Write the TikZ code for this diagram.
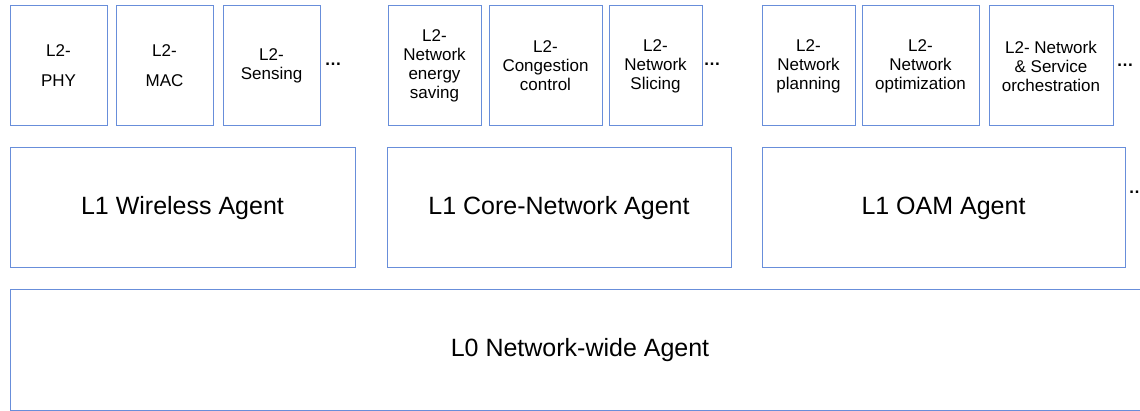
\documentclass[tikz,border=0pt]{standalone}
\usepackage{fontspec}
\setmainfont{Liberation Sans}
\definecolor{bcol}{RGB}{104,142,218}
\newcommand\topsz{\fontsize{17}{19}\selectfont}
\newcommand\bigsz{\fontsize{25}{29}\selectfont}
\tikzset{
  box/.style={draw=bcol, line width=1pt, rectangle, inner sep=0pt, align=center, text=black},
  lvtwo/.style={box, font=\topsz, minimum height=120pt},
  lvone/.style={box, font=\bigsz, minimum height=120pt},
  dotsnode/.style={font=\topsz\bfseries, inner sep=0pt, anchor=base}
}
\begin{document}
\begin{tikzpicture}[x=1pt,y=-1pt]
\clip (0,0) rectangle (1140,411);
\fill[white] (0,0) rectangle (1140,411);
% L2 row
\node[lvtwo, minimum width=97pt] (b1) at (58.5,66) {L2-\\[11pt]PHY};
\node[lvtwo, minimum width=97pt] (b2) at (164.5,66) {L2-\\[11pt]MAC};
\node[lvtwo, minimum width=97pt] (b3) at (271.5,66) {L2-\\Sensing};
\node[dotsnode] (d1) at (333,66) {…};
\node[lvtwo, minimum width=93pt] (b4) at (434.5,66) {L2-\\Network\\energy\\saving};
\node[lvtwo, minimum width=113pt] (b5) at (545.5,66) {L2-\\Congestion\\control};
\node[lvtwo, minimum width=93pt] (b6) at (655.5,66) {L2-\\Network\\Slicing};
\node[dotsnode] (d2) at (712,66) {…};
\node[lvtwo, minimum width=93pt] (b7) at (808.5,66) {L2-\\Network\\planning};
\node[lvtwo, minimum width=117pt] (b8) at (920.5,66) {L2-\\Network\\optimization};
\node[lvtwo, minimum width=124pt] (b9) at (1051,66) {L2- Network\\\& Service\\orchestration};
\node[dotsnode] (d3) at (1125,67) {…};
% L1 row
\node[lvone, minimum width=345pt] (m1) at (182.5,208) {L1 Wireless Agent};
\node[lvone, minimum width=344pt] (m2) at (559,208) {L1 Core-Network Agent};
\node[lvone, minimum width=363pt] (m3) at (943.5,208) {L1 OAM Agent};
\node[dotsnode] (d4) at (1137,194) {…};
% L0 row
\node[lvone, minimum width=1140pt] (l0) at (580,350) {L0 Network-wide Agent};
\end{tikzpicture}
\end{document}
